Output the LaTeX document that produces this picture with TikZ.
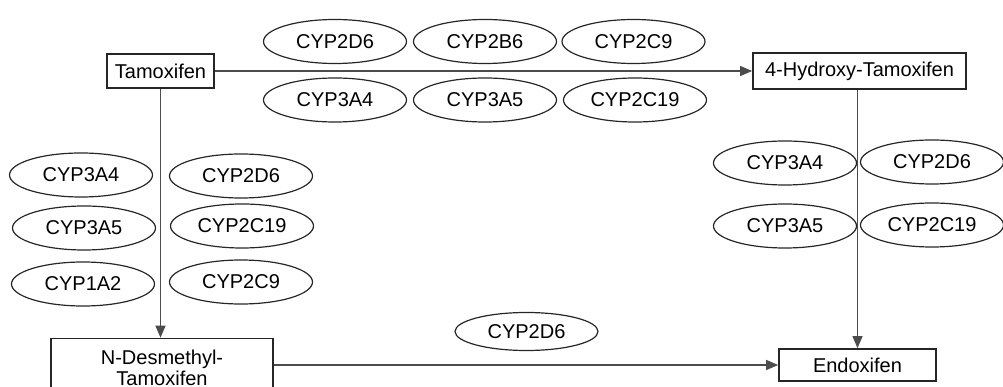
\documentclass[tikz,border=0pt]{standalone}
\usepackage{fontspec}
\setmainfont{Liberation Sans}
\usetikzlibrary{shapes.geometric,arrows.meta}
\begin{document}
\begin{tikzpicture}[x=1pt,y=-1pt,
  every node/.style={font=\fontsize{20}{21}\selectfont, text=black},
  enzyme/.style={ellipse, draw=black!85, line width=1.2pt, minimum width=143, minimum height=44, inner sep=0pt},
  drug/.style={rectangle, draw=black!85, line width=1.7pt, inner sep=0pt, fill=white},
  flow/.style={draw=black!70, line width=1.2pt, -{Triangle[length=12pt,width=10pt]}}
]
\useasboundingbox (0,0) rectangle (1003,387);

% compounds
\node[drug, minimum width=107, minimum height=34] (tam) at (160.5,71) {Tamoxifen};
\node[drug, minimum width=213, minimum height=36] (hyd) at (859.5,71) {4-Hydroxy-Tamoxifen};
\node[drug, minimum width=157, minimum height=32] (endo) at (857.5,365) {Endoxifen};
\node[drug, minimum width=222, minimum height=58, align=center] (ndm) at (162,367.5) {N-Desmethyl-\\Tamoxifen};

% reactions
\draw[flow] (tam.east) -- (hyd.west);
\draw[flow] (tam.south) -- (tam.south |- ndm.north);
\draw[flow] (endo.north |- hyd.south) -- (endo.north);
\draw[flow] (ndm.east |- endo.west) -- (endo.west);

% enzymes: tamoxifen -> 4-hydroxy-tamoxifen
\node[enzyme] (a1) at (335,41.5) {CYP2D6};
\node[enzyme] (a2) at (485,41.5) {CYP2B6};
\node[enzyme] (a3) at (633.5,41.5) {CYP2C9};
\node[enzyme] (a4) at (335,100) {CYP3A4};
\node[enzyme] (a5) at (485,100) {CYP3A5};
\node[enzyme] (a6) at (635,100) {CYP2C19};

% enzymes: tamoxifen -> N-desmethyl-tamoxifen
\node[enzyme] (b1) at (81,175) {CYP3A4};
\node[enzyme] (b2) at (84,228) {CYP3A5};
\node[enzyme] (b3) at (83,284) {CYP1A2};
\node[enzyme] (b4) at (241,176) {CYP2D6};
\node[enzyme] (b5) at (242,226) {CYP2C19};
\node[enzyme] (b6) at (241,282) {CYP2C9};

% enzymes: 4-hydroxy-tamoxifen -> endoxifen
\node[enzyme] (c1) at (785,163) {CYP3A4};
\node[enzyme] (c2) at (785,226) {CYP3A5};
\node[enzyme] (c3) at (932,162) {CYP2D6};
\node[enzyme] (c4) at (932,225) {CYP2C19};

% enzyme: N-desmethyl-tamoxifen -> endoxifen
\node[enzyme, minimum height=38] (d1) at (526.5,331.5) {CYP2D6};
\end{tikzpicture}
\end{document}
